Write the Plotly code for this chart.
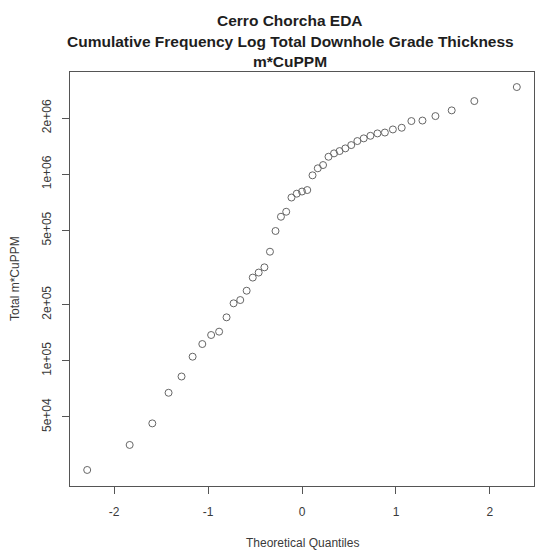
import plotly.graph_objects as go

# Theoretical quantiles (45 points)
theoretical_q = [-2.286, -1.834, -1.593, -1.420, -1.282, -1.164, -1.061, -0.967,
                 -0.882, -0.803, -0.728, -0.657, -0.589, -0.524, -0.461, -0.400,
                 -0.341, -0.282, -0.224, -0.168, -0.112, -0.056, 0.000, 0.056,
                 0.112, 0.168, 0.224, 0.282, 0.341, 0.400, 0.461, 0.524,
                 0.589, 0.657, 0.728, 0.803, 0.882, 0.967, 1.061, 1.164,
                 1.282, 1.420, 1.593, 1.834, 2.286]

# Total m*CuPPM (sample quantiles)
total_m_cuppm = [26000, 35400, 46200, 67400, 82400, 105200, 123000, 137500,
                 143300, 171000, 203300, 211700, 237500, 279300, 297200, 317000,
                 384400, 496400, 591700, 629500, 750300, 786700, 807800, 822700,
                 986500, 1076000, 1120000, 1241000, 1294000, 1331000, 1376000, 1433000,
                 1506000, 1557000, 1607000, 1655000, 1673000, 1738000, 1775000, 1928000,
                 1940000, 2050000, 2199000, 2467000, 2933000]

x_ticks = [-2, -1, 0, 1, 2]
y_tick_vals = [5e4, 1e5, 2e5, 5e5, 1e6, 2e6]
y_tick_text = ["5e+04", "1e+05", "2e+05", "5e+05", "1e+06", "2e+06"]

title_lines = ["Cerro Chorcha EDA",
               "Cumulative Frequency Log Total Downhole Grade Thickness",
               "m*CuPPM"]
x_title = "Theoretical Quantiles"
y_title = "Total m*CuPPM"

W, H = 540, 550
L, R, T, B = 70, 6, 72, 64

fig = go.Figure()
fig.add_trace(go.Scatter(
    x=theoretical_q, y=total_m_cuppm, mode="markers",
    marker=dict(symbol="circle-open", size=7, color="#666666", line=dict(width=1, color="#666666")),
    showlegend=False, hoverinfo="skip"))

font_family = "Liberation Sans, Arial, sans-serif"
text_color = "#3a3a3a"
fig.update_layout(
    width=W, height=H, autosize=False,
    margin=dict(l=L, r=R, t=T, b=B),
    paper_bgcolor="white", plot_bgcolor="white",
    font=dict(family=font_family, size=12, color=text_color),
    xaxis=dict(range=[-2.469, 2.469], tickvals=x_ticks, ticktext=[str(v) for v in x_ticks],
               tickfont=dict(color=text_color, size=12),
               showgrid=False, zeroline=False, showline=True, mirror=True,
               linecolor="#555555", linewidth=1, ticks="outside", ticklen=7,
               tickcolor="#555555", ticklabelstandoff=8),
    yaxis=dict(type="log", range=[4.329, 6.548], tickvals=y_tick_vals, ticktext=y_tick_text,
               tickfont=dict(color=text_color, size=12),
               tickangle=-90, showgrid=False, zeroline=False, showline=True, mirror=True,
               linecolor="#555555", linewidth=1, ticks="outside", ticklen=7,
               tickcolor="#555555", ticklabelstandoff=6),
)

title_cx = (290 - L) / (W - L - R)
for line, yc in zip(title_lines, [21, 42, 61]):
    fig.add_annotation(text="<b>" + line + "</b>", xref="paper", yref="paper",
                       x=title_cx, y=1 + (T - yc) / (H - T - B), xanchor="center", yanchor="middle",
                       showarrow=False, font=dict(size=15.5, color="#1e1e1e", family=font_family))

fig.add_annotation(text=x_title, xref="paper", yref="paper", x=0.5,
                   y=-(543 - (H - B)) / (H - T - B), xanchor="center", yanchor="middle",
                   showarrow=False, font=dict(size=12, color=text_color))
fig.add_annotation(text=y_title, xref="paper", yref="paper", x=-(L - 15) / (W - L - R),
                   y=0.5, xanchor="center", yanchor="middle", textangle=-90,
                   showarrow=False, font=dict(size=12, color=text_color))

fig.write_html("out.html")
